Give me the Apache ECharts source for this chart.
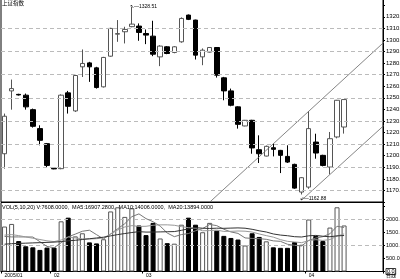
<!DOCTYPE html>
<html><head><meta charset="utf-8">
<script src="https://cdn.jsdelivr.net/npm/echarts@6/dist/echarts.min.js"></script>
<style>html,body{margin:0;padding:0;background:#fff}#c{width:400px;height:279px}</style>
</head><body><div id="c"></div>
<script>
// trading days (daily candles), plus empty slots on the right
const dates = ['2005/01/21','2005/01/24','2005/01/25','2005/01/26','2005/01/27','2005/01/28','2005/01/31',
'2005/02/01','2005/02/02','2005/02/03','2005/02/04','2005/02/16','2005/02/17','2005/02/18','2005/02/21','2005/02/22','2005/02/23','2005/02/24','2005/02/25','2005/02/28',
'2005/03/01','2005/03/02','2005/03/03','2005/03/04','2005/03/07','2005/03/08','2005/03/09','2005/03/10','2005/03/11','2005/03/14','2005/03/15','2005/03/16','2005/03/17','2005/03/18','2005/03/21','2005/03/22','2005/03/23','2005/03/24','2005/03/25','2005/03/28','2005/03/29','2005/03/30','2005/03/31',
'2005/04/01','2005/04/04','2005/04/05','2005/04/06','2005/04/07','2005/04/08','2005/04/11','2005/04/12','2005/04/13','2005/04/14','2005/04/15'];
// [open, close, low, high]
const ohlc = [
[1201.7,1234.1,1188.8,1236.4],[1256,1258,1239.8,1265.8],[1253,1252.5,1252,1253.5],[1252.3,1242.2,1239.8,1253.7],
[1239.8,1225.4,1224.3,1240.7],[1223.4,1213.3,1209.0,1226.3],[1210.4,1191.6,1190.2,1211],[1189.2,1188.6,1188.3,1189.5],
[1188.8,1252.3,1188.3,1253],[1254.3,1242.7,1236.4,1256],[1238.7,1269.3,1237.8,1269.9],[1276.8,1279.7,1268,1291.8],
[1280.2,1276.8,1263.8,1281.1],[1275.9,1258.9,1258,1276.8],[1259.5,1284.9,1258.9,1285.4],[1286,1310,1285.5,1310.5],
[1305,1305.5,1298.4,1317.2],[1307.1,1309.1,1297,1311.4],[1311.5,1313.7,1311,1328.51],[1312,1306.5,1299.3,1314.3],
[1305.6,1304.2,1296.4,1309.1],[1303.3,1287.7,1286,1316.6],[1285.4,1294.7,1277.4,1295.5],[1294.1,1288.3,1287.7,1294.7],
[1289.2,1294.1,1288.5,1294.7],[1298.4,1318.6,1297.6,1319.5],[1321.5,1317.8,1317.2,1322],[1317.2,1286.9,1283.1,1317.5],
[1285.4,1291.2,1278.2,1292.7],[1289.5,1293.5,1289.2,1293.8],[1293.5,1269.6,1267.5,1293.8],[1267.3,1256,1247.9,1268.1],
[1256,1243.6,1242.7,1258],[1242.2,1227.1,1223.4,1242.7],[1225.7,1230.6,1225.4,1230.9],[1230.6,1206.7,1201.7,1231],
[1205.2,1201.7,1193.7,1217.6],[1199.7,1208.1,1199.4,1208.8],[1206.9,1205.5,1199.4,1210.4],[1204.6,1200.3,1185,1205],
[1199.4,1194.5,1193.7,1209],[1192.5,1172,1171.4,1193.1],[1168.6,1181,1166.5,1181.5],[1172.9,1223.4,1171.4,1238.4],
[1211.8,1202.3,1197.4,1219],[1200.3,1191.6,1190.8,1200.8],[1190.2,1214.7,1183.9,1220.5],[1216.2,1247.9,1215,1248.2],
[1224.8,1248.5,1219.1,1248.5]];
const volumes = [1730,1830,1170,970,930,830,920,920,1930,2070,1350,1470,1120,1080,1240,2310,2470,2100,2430,1770,
1400,1870,1270,1090,1070,1800,2070,1800,1510,1870,1570,1370,1290,1230,1000,1470,1330,1160,930,910,910,1130,1030,
2000,1370,1170,1690,2470,1770];
const ma5 = [1350,1330,1330,1330,1326,1146,964,914,1106,1334,1438,1548,1588,1418,1252,1444,1644,1840,2110,2216,
2034,1914,1748,1480,1340,1420,1460,1566,1650,1810,1764,1624,1522,1466,1292,1272,1264,1238,1178,1160,1048,1008,982,
1196,1288,1340,1452,1740,1694];
const ma10 = [1400,1420,1380,1330,1280,1230,1180,1150,1210,1330,1292,1256,1251,1262,1293,1441,1596,1714,1764,1734,
1739,1779,1794,1795,1778,1727,1687,1657,1565,1575,1592,1542,1544,1558,1551,1518,1444,1380,1322,1226,1160,1136,1110,
1187,1224,1194,1230,1361,1445];
const ma20 = [1050,1070,1080,1090,1100,1110,1120,1130,1150,1180,1200,1230,1260,1290,1320,1370,1420,1460,1500,1532,
1516,1518,1523,1529,1536,1584,1642,1686,1665,1655,1666,1661,1669,1677,1665,1623,1566,1519,1444,1401,1376,1339,1327,
1373,1388,1356,1337,1371,1384];
const priceGridLines = [1170,1190,1210,1230,1250,1270,1290,1310];
const volGridLines = [1000,2000];
const channelUpper = [[29,1159.85],[54,1300.1]];
const channelLower = [[42,1161.6],[54,1228.2]];
const highMark = {idx:18, value:1328.51};
const lowMark = {idx:42, value:1166.5, text:'1162.88'};
const axisMonthLabels = {0:'2005/01',7:'02',20:'03',43:'04'};

const FONT = 'Liberation Sans';
const volData = volumes.map((v,i)=>{
  const up = ohlc[i][1] >= ohlc[i][0];
  return {value:v, itemStyle: up ? {color:'#fff', borderColor:'#555', borderWidth:1} : {color:'#000', borderColor:'#000', borderWidth:1}};
});
const lastIdx = dates.length - 1;

const chart = echarts.init(document.getElementById('c'), null, {renderer:'canvas'});
chart.setOption({
  animation:false,
  backgroundColor:'#fff',
  grid:[
    {left:1, right:17, top:-1, height:203, show:true, borderColor:'#000', borderWidth:1, backgroundColor:'transparent', containLabel:false, outerBoundsMode:'none'},
    {left:1, right:17, top:202.5, height:69, show:true, borderColor:'#000', borderWidth:1, backgroundColor:'transparent', containLabel:false, outerBoundsMode:'none'}
  ],
  xAxis:[
    {type:'category', gridIndex:0, data:dates, min:0, max:lastIdx, boundaryGap:true, axisLine:{show:false}, axisTick:{show:false}, axisLabel:{show:false}, splitLine:{show:false}},
    {type:'category', gridIndex:1, data:dates, min:0, max:lastIdx, boundaryGap:true,
     axisLine:{show:true, lineStyle:{color:'#000', width:1}},
     axisTick:{show:true, length:2, lineStyle:{color:'#000'}, interval:(i)=>axisMonthLabels[i]!==undefined},
     axisLabel:{show:true, fontSize:5, fontFamily:FONT, color:'#000', margin:2, align:'left',
       interval:(i)=>axisMonthLabels[i]!==undefined, formatter:(v,i)=>axisMonthLabels[i]||''},
     splitLine:{show:false}}
  ],
  yAxis:[
    {type:'value', gridIndex:0, position:'right', min:1160, max:1335.4, interval:10, scale:true,
     axisLine:{show:true, lineStyle:{color:'#000'}}, axisTick:{show:true, length:2, lineStyle:{color:'#000'}},
     axisLabel:{fontSize:6, fontFamily:FONT, color:'#000', margin:3,
       formatter:(v)=> (v<1165||v>1325)?'':v.toFixed(1)},
     splitLine:{show:false}},
    {type:'value', gridIndex:1, position:'right', min:0, max:2654, interval:500,
     axisLine:{show:true, lineStyle:{color:'#000'}}, axisTick:{show:true, length:2, lineStyle:{color:'#000'}},
     axisLabel:{fontSize:5.5, fontFamily:FONT, color:'#000', margin:3,
       formatter:(v)=> v>2200?'': (v===0?'{b|0.0}':v.toFixed(1)),
       rich:{b:{fontSize:5.5, fontFamily:FONT, color:'#000', borderColor:'#000', borderWidth:0.8, padding:[0,1]}}},
     splitLine:{show:false}}
  ],
  series:[
    {type:'line', xAxisIndex:0, yAxisIndex:0, data:[], z:1, silent:true,
     markLine:{silent:true, symbol:'none', label:{show:false},
       lineStyle:{color:'#bbb', type:[4,3], width:1},
       data: priceGridLines.map(v=>({yAxis:v}))}},
    {type:'candlestick', xAxisIndex:0, yAxisIndex:0, data:ohlc, barWidth:5, z:3,
     itemStyle:{color:'#fff', color0:'#000', borderColor:'#555', borderColor0:'#000', borderWidth:1},
     markPoint:{silent:true, symbol:'circle', symbolSize:0.01,
       label:{show:true, position:'right', fontSize:5, fontFamily:FONT, color:'#000', distance:0},
       data:[
         {coord:[highMark.idx, highMark.value], label:{formatter:'↖—' + highMark.value.toFixed(2), offset:[-2,0]}},
         {coord:[lowMark.idx, lowMark.value], label:{formatter:'↙—' + lowMark.text, offset:[-2,4]}}
       ]}},
    {type:'line', xAxisIndex:0, yAxisIndex:0, data:channelUpper, showSymbol:false, symbol:'none', z:4, clip:true,
     lineStyle:{color:'#666', width:0.8}},
    {type:'line', xAxisIndex:0, yAxisIndex:0, data:channelLower, showSymbol:false, symbol:'none', z:4, clip:true,
     lineStyle:{color:'#666', width:0.8}},
    {type:'line', xAxisIndex:1, yAxisIndex:1, data:[], z:1, silent:true,
     markLine:{silent:true, symbol:'none', label:{show:false},
       lineStyle:{color:'#bbb', type:[4,3], width:1},
       data: volGridLines.map(v=>({yAxis:v}))}},
    {type:'bar', xAxisIndex:1, yAxisIndex:1, data:volData, barWidth:5, z:2},
    {type:'line', xAxisIndex:1, yAxisIndex:1, data:ma5, showSymbol:false, symbol:'none', z:5, lineStyle:{color:'#777', width:1}},
    {type:'line', xAxisIndex:1, yAxisIndex:1, data:ma10, showSymbol:false, symbol:'none', z:5, lineStyle:{color:'#999', width:1}},
    {type:'line', xAxisIndex:1, yAxisIndex:1, data:ma20, showSymbol:false, symbol:'none', z:5, lineStyle:{color:'#333', width:1}}
  ],
  graphic:[
    {type:'text', left:2, top:0, z:10, style:{text:'上证指数', fontSize:5.5, fontFamily:'Noto Sans CJK SC', fill:'#000'}},
    {type:'text', left:2, top:204, z:10, style:{text:'VOL(5,10,20) V:7608.0000,  MA5:16907.2800,  MA10:14006.0000,  MA20:13894.0000', fontSize:5.5, fontFamily:FONT, fill:'#000'}},
    {type:'text', left:386, top:273, z:10, style:{text:'日线', fontSize:5, fontFamily:'Noto Sans CJK SC', fill:'#000'}}
  ]
});
</script></body></html>
